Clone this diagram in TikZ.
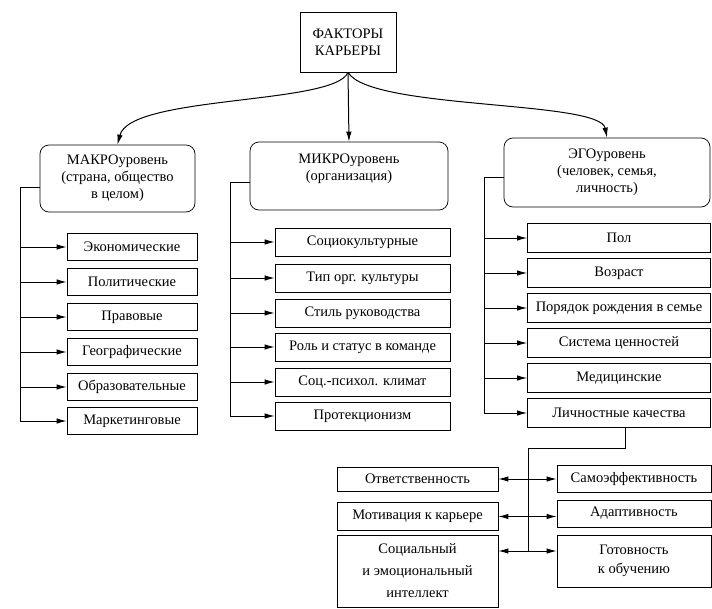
\documentclass[tikz,border=0pt]{standalone}
\usepackage{fontspec}
\setmainfont{Liberation Serif}
\usepackage{tikz}
\usetikzlibrary{arrows.meta,calc}

\begin{document}
\begin{tikzpicture}[x=1pt,y=-1pt,line width=0.7pt,
  >={Latex[length=10pt,width=5.5pt]},
  link/.style={line width=1pt},
  every node/.style={font=\fontsize{14.5}{17}\selectfont},
  level/.style={draw,rounded corners=9pt,align=center,inner sep=2pt},
  factor/.style={draw,align=center,inner sep=1pt,minimum height=27pt}]
\useasboundingbox (0,0) rectangle (712,608);

% Top node and the three levels
\node[draw,align=center,minimum width=96pt,minimum height=60pt] (factors) at (348,42) {ФАКТОРЫ\\КАРЬЕРЫ};
\node[level,minimum width=155pt,minimum height=67pt] (macro) at (117.5,178.5) {МАКРОуровень\\(страна, общество\\в целом)};
\node[level,minimum width=198pt,minimum height=68pt] (micro) at (349,176) {МИКРОуровень\\(организация)\\~};
\node[level,minimum width=206pt,minimum height=69pt] (ego) at (607,172.5) {ЭГОуровень\\(человек, семья,\\личность)};

\draw[link,->] (factors.south) .. controls (335,105) and (130,95) .. (macro.north);
\draw[link,->] (factors.south) -- (micro.north);
\draw[link,->] (factors.south) .. controls (370,110) and (600,100) .. (ego.north);

% MACRO level
\node[factor,minimum width=130pt] (mk1) at (132,247) {Экономические};
\node[factor,minimum width=130pt] (mk2) at (132,282) {Политические};
\node[factor,minimum width=130pt] (mk3) at (132,317) {Правовые};
\node[factor,minimum width=130pt] (mk4) at (132,352) {Географические};
\node[factor,minimum width=130pt] (mk5) at (132,387) {Образовательные};
\node[factor,minimum width=130pt] (mk6) at (132,421) {Маркетинговые};
\coordinate (mt) at (20,187);
\draw ([yshift=-8.5pt]macro.west) -- (mt) -- (mt |- mk6.west);
\draw[link,->] (mt |- mk1.west) -- (mk1.west);
\draw[link,->] (mt |- mk2.west) -- (mk2.west);
\draw[link,->] (mt |- mk3.west) -- (mk3.west);
\draw[link,->] (mt |- mk4.west) -- (mk4.west);
\draw[link,->] (mt |- mk5.west) -- (mk5.west);
\draw[link,->] (mt |- mk6.west) -- (mk6.west);

% MICRO level
\node[factor,minimum width=175pt,minimum height=28pt] (mi1) at (362.5,242) {Социокультурные};
\node[factor,minimum width=175pt,minimum height=28pt] (mi2) at (362.5,278) {Тип орг. культуры};
\node[factor,minimum width=175pt,minimum height=28pt] (mi3) at (362.5,313) {Стиль руководства};
\node[factor,minimum width=175pt,minimum height=28pt] (mi4) at (362.5,347) {Роль и статус в команде};
\node[factor,minimum width=175pt,minimum height=28pt] (mi5) at (362.5,382) {Соц.-психол. климат};
\node[factor,minimum width=175pt,minimum height=28pt] (mi6) at (362.5,416) {Протекционизм};
\coordinate (it) at (230,182);
\draw ([yshift=-6pt]micro.west) -- (it) -- (it |- mi6.west);
\draw[link,->] (it |- mi1.west) -- (mi1.west);
\draw[link,->] (it |- mi2.west) -- (mi2.west);
\draw[link,->] (it |- mi3.west) -- (mi3.west);
\draw[link,->] (it |- mi4.west) -- (mi4.west);
\draw[link,->] (it |- mi5.west) -- (mi5.west);
\draw[link,->] (it |- mi6.west) -- (mi6.west);

% EGO level
\node[factor,minimum width=183pt,minimum height=29pt] (eg1) at (619,238) {Пол};
\node[factor,minimum width=183pt,minimum height=29pt] (eg2) at (619,273) {Возраст};
\node[factor,minimum width=183pt,minimum height=29pt] (eg3) at (619,308) {Порядок рождения в семье};
\node[factor,minimum width=183pt,minimum height=29pt] (eg4) at (619,343) {Система ценностей};
\node[factor,minimum width=183pt,minimum height=29pt] (eg5) at (619,378) {Медицинские};
\node[factor,minimum width=183pt,minimum height=29pt] (eg6) at (619,413) {Личностные качества};
\coordinate (et) at (484,177);
\draw ([yshift=-4.5pt]ego.west) -- (et) -- (et |- eg6.west);
\draw[link,->] (et |- eg1.west) -- (eg1.west);
\draw[link,->] (et |- eg2.west) -- (eg2.west);
\draw[link,->] (et |- eg3.west) -- (eg3.west);
\draw[link,->] (et |- eg4.west) -- (eg4.west);
\draw[link,->] (et |- eg5.west) -- (eg5.west);
\draw[link,->] (et |- eg6.west) -- (eg6.west);

% Personal qualities
\node[factor,minimum width=161pt,minimum height=24pt] (otv) at (417.5,479) {Ответственность};
\node[factor,minimum width=161pt,minimum height=28pt] (mot) at (417.5,516.5) {Мотивация к карьере};
\node[factor,minimum width=161pt,minimum height=72pt,font=\fontsize{14.5}{22}\selectfont] (soc) at (417.5,571) {Социальный\\и эмоциональный\\интеллект};
\node[factor,minimum width=154pt] (sam) at (634,479) {Самоэффективность};
\node[factor,minimum width=154pt] (ada) at (634,513.5) {Адаптивность};
\node[factor,minimum width=154pt,minimum height=52pt,font=\fontsize{14.5}{19}\selectfont] (got) at (634,561) {Готовность\\к обучению};
\coordinate (bend) at (528,448);
\coordinate (bt) at (528,551);
\draw ([xshift=6pt]eg6.south) |- (bend) -- (bt);
\draw[link,<->] (otv.east) -- (sam.west |- otv.east);
\draw[link,<->] (mot.east) -- (ada.west |- mot.east);
\draw[link,<->] (bt -| soc.east) -- (bt -| got.west);
\end{tikzpicture}
\end{document}
